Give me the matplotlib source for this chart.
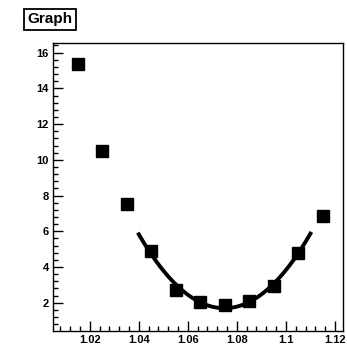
import numpy as np
import matplotlib
matplotlib.use("Agg")
import matplotlib.pyplot as plt
from matplotlib.ticker import MultipleLocator, AutoMinorLocator

# data points
x_vals = [1.015, 1.025, 1.035, 1.045, 1.055, 1.065, 1.075, 1.085, 1.095, 1.105, 1.115]
y_vals = [15.37, 10.49, 7.53, 4.90, 2.71, 2.04, 1.87, 2.10, 2.94, 4.78, 6.85]

# fit range for the parabola
fit_lo, fit_hi = 1.04, 1.11

plt.rcParams['font.family'] = ['Liberation Sans', 'DejaVu Sans']

fig = plt.figure(figsize=(3.47, 3.47), dpi=100)
ax = fig.add_axes([0.1527, 0.0461, 0.8358, 0.83])

ax.plot(x_vals, y_vals, 's', color='black', markersize=8.5, zorder=3)

xs = np.array(x_vals)
ys = np.array(y_vals)
sel = (xs > fit_lo) & (xs < fit_hi)
coef = np.polyfit(xs[sel], ys[sel], 2)
xf = np.linspace(fit_lo, fit_hi, 200)
ax.plot(xf, np.polyval(coef, xf), color='black', linewidth=2.8, zorder=2)

ax.set_xlim(1.005, 1.1233)
ax.set_ylim(0.415, 16.54)

ax.xaxis.set_major_locator(MultipleLocator(0.02))
ax.xaxis.set_minor_locator(AutoMinorLocator(5))
ax.yaxis.set_major_locator(MultipleLocator(2))
ax.yaxis.set_minor_locator(AutoMinorLocator(5))
ax.xaxis.set_major_formatter(plt.FuncFormatter(lambda v, p: ('%.2f' % v).rstrip('0')))

ax.tick_params(which='both', direction='in', top=False, right=False, width=1)
ax.tick_params(which='major', length=7, labelsize=8, pad=3)
ax.tick_params(which='minor', length=3.5)
for lab in ax.get_xticklabels() + ax.get_yticklabels():
    lab.set_fontweight('bold')
for s in ax.spines.values():
    s.set_linewidth(1.0)

fig.text(0.144, 0.944, 'Graph', fontsize=11, fontweight='bold', ha='center', va='center',
         bbox=dict(boxstyle='square,pad=0.25', facecolor='white', edgecolor='black', linewidth=1.3))

fig.savefig('out.png', dpi=100)
